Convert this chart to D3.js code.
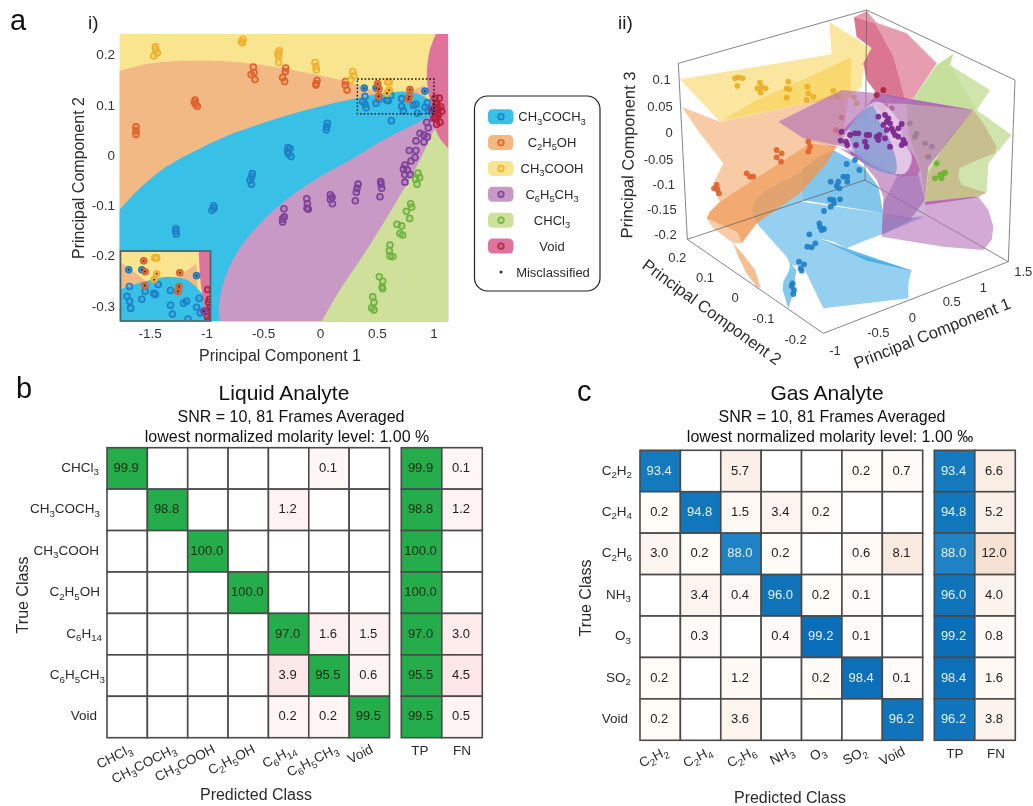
<!DOCTYPE html>
<html><head><meta charset="utf-8">
<script src="https://cdnjs.cloudflare.com/ajax/libs/d3/7.8.5/d3.min.js"></script>
<style>html,body{margin:0;padding:0;background:#fff}svg{display:block;filter:blur(.4px)}text{font-family:"Liberation Sans",Arial,sans-serif;fill:#2b2b2b}</style>
</head><body><svg id="c" width="1033" height="806"></svg>
<script>
// ---- Panel a(i): PCA points (PC1, PC2)
const acetoneX=[-1.268,-1.27,-1.265,-.936,-.933,-.951,-.596,-.601,-.616,-.604,-.282,-.264,-.285,-.276,-.255,.065,.059,.056,.396,.376,.396,.405,.493,.519,.6,.622,.587,.719,.719,.734,.822,.845,.857,.924,.945,.954,.628];
const acetoneY=[-.146,-.151,-.157,-.101,-.106,-.11,-.037,-.043,-.05,-.058,.015,.013,.007,.002,-.003,.063,.056,.05,.116,.106,.101,.094,.103,.111,.108,.118,.109,.112,.097,.088,.099,.101,.083,.095,.104,.089,.068];
const ethanolX=[-1.62,-1.62,-1.62,-1.10,-1.106,-1.094,-1.08,-.587,-.581,-.607,-.572,-.302,-.305,-.329,-.311,-.026,-.035,-.035,.223,.223,.238];
const ethanolY=[.056,.048,.041,.109,.105,.101,.097,.175,.164,.160,.150,.173,.166,.154,.146,.148,.142,.139,.146,.139,.129];
const aceticX=[-1.45,-1.447,-1.432,-1.464,-.678,-.692,-.684,-.358,-.37,-.364,-.364,-.044,-.035,-.032,.288,.299,.273,.596,.61];
const aceticY=[.215,.210,.203,.197,.230,.225,.223,.207,.202,.197,.184,.184,.176,.169,.166,.157,.150,.145,.145];
const tolueneX=[-.317,-.314,-.329,-.329,-.117,-.111,-.114,-.103,.091,.106,.091,.109,.335,.326,.32,.311,.534,.537,.543,.528,.748,.734,.769,.745,.795,.748,.786,.845,.836,.801,.845,.88,.915,.915,.945,.939,.954,.998];
const tolueneY=[-.107,-.123,-.127,-.133,-.087,-.097,-.106,-.108,-.079,-.084,-.088,-.097,-.058,-.066,-.074,-.091,-.053,-.058,-.066,-.083,-.02,-.028,-.03,-.039,-.039,-.054,.009,.009,-.005,-.012,.028,.043,.04,.026,.036,.065,.054,.073];
const chloroformX=[.863,.877,.842,.854,.798,.807,.76,.789,.678,.719,.704,.728,.616,.61,.616,.64,.522,.552,.546,.552,.464,.475,.455,.475];
const chloroformY=[-.036,-.045,-.048,-.058,-.097,-.104,-.112,-.126,-.138,-.141,-.156,-.159,-.179,-.19,-.201,-.202,-.242,-.251,-.262,-.266,-.282,-.293,-.304,-.308];
const voidX=[1.012,1.05,1.027,1.062,1.071,1.033,1.027,1.012,1.056,1.027,1.04,1.02,1.03,1.045,1.01];
const voidY=[.113,.113,.103,.096,.087,.083,.073,.073,.065,.061,.092,.1,.095,.08,.085];
// misclassified samples: class index, PC1, PC2
const misClass=[0,0,0,1,1,1,1,1,1,2,2,3];
const misX=[.39,.493,.924,.508,.519,.516,.792,.786,.778,.61,.59,.983];
const misY=[.133,.133,.127,.142,.131,.117,.130,.116,.111,.129,.123,.091];
// decision boundaries (PC1, PC2)
const orangeTop=[[-1.766,.167],[-1.496,.182],[-1.056,.188],[-.616,.182],[-.176,.166],[.235,.146],[.329,.14],[.511,.123]];
const orangeWedge=[[.75,.1225],[.922,.139],[.94,.1]];
const blueTop=[[-1.766,-.109],[-1.585,-.066],[-1.35,-.023],[-1.056,.013],[-.763,.043],[-.469,.066],[-.176,.086],[.117,.103],[.41,.117],[.558,.1226],[.704,.126],[.851,.1226],[.968,.109]];
const purpleTop=[[-.88,-.331],[-.889,-.302],[-.851,-.255],[-.734,-.195],[-.528,-.136],[-.264,-.083],[0,-.043],[.264,-.01],[.558,.03],[.822,.06],[1.012,.083]];
const greenTop=[[.015,-.331],[.176,-.268],[.41,-.189],[.646,-.103],[.851,-.023],[1.012,.053]];
const pinkEdge=[[1.021,.2406],[.968,.209],[.942,.169],[.954,.123],[.983,.096],[1.012,.053],[1.056,.033],[1.13,.013]];
const xTicks=[-1.5,-1,-.5,0,.5,1], yTicks=[.2,.1,0,-.1,-.2,-.3];
const xRange=[-1.766,1.13], yRange=[-.331,.2406];
const insetX=[.329,1.03], insetY=[.082,.151];

const classNames=["CH3COCH3","C2H5OH","CH3COOH","C6H5CH3","CHCl3","Void"];
const regionColors=["#38c0e6","#f3b985","#f9e48f","#c999c6","#cee09a","#de739c"];
const markColors=["#1d7fc4","#e0602a","#f0b02e","#7d3f98","#6fb33f","#b5213c"];

// ---- Panel a(ii): picture-plane readings of the 3-D view (view units)
const vYellowA=[[240,238],[695,163],[688,65],[750,105],[815,148],[792,200],[785,260],[745,295],[700,290],[610,312],[360,365]];
const vYellowB=[[370,360],[470,300],[620,235],[755,170],[752,290],[610,312]];
const vOrangeA=[[245,320],[360,365],[610,312],[700,285],[745,295],[730,400],[680,490],[600,580],[470,670],[425,730],[400,730],[340,685],[320,655],[330,635],[360,605],[350,590],[340,550],[360,510],[370,490],[300,400]];
const vOrangeB=[[320,655],[330,635],[360,605],[630,430],[710,440],[680,490],[600,580],[470,670],[425,730],[415,700],[400,690]];
const vOrangeC=[[400,730],[435,770],[465,810],[482,865],[470,860],[440,820],[415,770]];
const vBlueA=[[605,600],[605,510],[655,470],[700,450],[790,500],[835,560],[850,640],[760,625]];
const vBlueB=[[455,630],[465,600],[500,570],[605,515],[605,605],[850,640],[935,655],[975,650],[880,690],[800,720],[740,745],[700,725],[655,715],[760,760],[935,810],[925,850],[925,895],[670,925],[610,800],[572,795],[560,770],[510,715],[470,670]];
const vBlueC=[[570,790],[590,810],[582,850],[580,880],[565,925],[548,870],[550,845],[568,810]];
const vBlueD=[[655,715],[740,745],[870,790],[935,812],[800,782],[710,740]];
const vGreenA=[[1060,162],[1050,195],[1170,270],[1130,330],[1235,405],[1165,490],[1160,575],[1135,590],[975,605],[965,520],[925,400],[920,315],[940,295],[1010,195]];
const vGreenB=[[1060,162],[1050,195],[1130,330],[1120,330],[940,295],[1010,195]];
const vOlive=[[1120,330],[1150,370],[1190,440],[1185,458],[1110,490],[1078,505],[1075,530],[1085,555],[1160,578],[1135,590],[975,605],[985,520],[1040,420]];
const vPinkA=[[762,52],[800,33],[830,68],[920,100],[1010,190],[940,295],[915,300],[830,280],[800,240],[790,190],[815,145],[770,110]];
const vPinkB=[[762,52],[825,70],[880,170],[915,300],[830,280],[800,240],[790,190],[815,145],[770,110]];
const vPurpleA=[[535,365],[725,270],[835,280],[1120,330],[1040,430],[985,500],[975,600],[930,660],[850,640],[850,590],[830,540],[790,490],[730,440],[610,415]];
const vPurpleB=[[845,710],[850,610],[850,640],[935,655],[975,645],[975,605],[1135,590],[1165,630],[1180,680],[1175,720],[1150,750],[1030,740]];
const vPurpleC=[[720,400],[835,280],[1120,330],[925,312],[835,310],[745,390]];
const vPurpleD=[[610,415],[710,440],[790,470],[890,520],[915,520],[935,490],[935,470],[915,430],[945,470],[960,510],[950,525],[900,530],[800,495],[720,445]];
const vPurpleE=[[850,610],[890,530],[955,520],[975,605],[975,645],[935,660],[845,705]];
const vPurpleF=[[975,605],[1120,590],[1135,592],[975,615]];
const vLens=[[745,390],[835,305],[895,360],[910,420],[935,470],[915,520],[850,510],[780,470],[730,425]];
const vLensBlue=[[750,385],[820,320],[840,370],[870,420],[885,520],[810,500],[760,450]];
const vBack=[[vYellowA,"#f8dc78",.72],[vYellowB,"#f9cc4a",.55],[vBlueB,"#4fb0e6",.6],[vBlueA,"#3fa8e0",.65],[vBlueC,"#4fb0e6",.7],[vBlueD,"#2ea2e0",.7],[vOrangeA,"#f3a86c",.6],[vOrangeB,"#ee8f46",.55],[vOrangeC,"#f3a86c",.75],[vGreenA,"#a9d06a",.55],[vGreenB,"#a9d06a",.25],[vOlive,"#c09c70",.5],[vPinkA,"#db6f8b",.68],[vPinkB,"#c9476f",.45]];
const vFront=[[vPurpleA,"#b574b4",.68],[vPurpleB,"#b676bc",.62],[vPurpleE,"#8e5fae",.45],[vPurpleC,"#a860b0",.7],[vPurpleD,"#b05ca8",.7],[vPurpleF,"#b04fa4",.7]];
const vPtsYellow=[[405,235],[415,232],[428,235],[412,258],[480,248],[472,265],[485,262],[497,265],[482,278],[565,245],[560,265],[568,268],[560,293],[622,260],[625,280],[640,290],[620,300]];
const vPtsYellowFaded=[[700,272],[712,290],[762,292],[770,310]];
const vPtsOrange=[[350,555],[342,565],[352,568],[357,580],[440,520],[450,530],[460,530],[530,450],[545,460],[530,472],[543,485],[625,425],[630,440],[625,455]];
const vPtsOrangeFaded=[[725,352],[708,390],[720,398]];
const vPtsBlue=[[578,850],[575,858],[582,870],[580,882],[597,785],[612,793],[602,805],[605,812],[628,703],[622,740],[635,742],[646,730],[658,670],[660,680],[665,690],[672,687],[690,598],[700,600],[720,598],[702,610],[692,620],[672,633],[692,545],[715,545],[710,558],[718,565],[730,530],[742,530],[742,545],[740,492],[778,510],[765,480]];
const vPtsBlueFaded=[[790,350],[820,360],[840,370],[800,380],[770,460],[760,458],[785,470]];
const vPtsPurple=[[725,395],[722,422],[738,425],[742,435],[750,405],[765,400],[775,400],[768,435],[795,425],[800,405],[808,405],[800,440],[830,410],[838,405],[860,390],[835,350],[855,345],[860,365],[870,370],[875,385],[880,395],[895,385],[905,372],[885,405],[895,410],[910,420],[905,435],[915,430],[870,440],[855,415],[835,420],[850,375],[865,355]];
const vPtsVoid=[[850,270],[830,285]];
const vPtsVoidFaded=[[855,320],[875,325],[840,320],[850,335]];
const vPtsGreen=[[1010,490],[1030,520],[1020,525],[1005,535],[1025,535],[1035,518]];
const vPtsGreenFaded=[[975,430],[995,440],[945,410],[930,370],[950,400],[985,470]];
const vBoxEdges=[[[262,718],[670,1000],[1225,785],[795,540],[262,718]],[[262,718],[235,190],[800,30],[1245,240],[1225,785]],[[795,540],[800,30]]];
const v3Ticks=[["0.1",212,238],["0.05",218,320],["0",218,398],["-0.05",220,478],["-0.1",225,552],["-0.15",230,628],["-0.2",230,703]];
const v2Ticks=[["0.2",232,773],["0.1",315,832],["0",405,892],["-0.1",490,955],["-0.2",587,1018]];
const v1Ticks=[["-1",705,1052],["-0.5",835,996],["0",937,953],["0.5",1055,905],["1",1150,862],["1.5",1270,815]];

// ---- Panels b, c: confusion matrices
const liquidClasses=["CHCl3","CH3COCH3","CH3COOH","C2H5OH","C6H14","C6H5CH3","Void"];
const liquidMatrix=[
[99.9,null,null,null,null,0.1,null],
[null,98.8,null,null,1.2,null,null],
[null,null,100.0,null,null,null,null],
[null,null,null,100.0,null,null,null],
[null,null,null,null,97.0,1.6,1.5],
[null,null,null,null,3.9,95.5,0.6],
[null,null,null,null,0.2,0.2,99.5]];
const liquidTP=[99.9,98.8,100.0,100.0,97.0,95.5,99.5];
const liquidFN=[0.1,1.2,null,null,3.0,4.5,0.5];
const gasClasses=["C2H2","C2H4","C2H6","NH3","O3","SO2","Void"];
const gasMatrix=[
[93.4,null,5.7,null,null,0.2,0.7],
[0.2,94.8,1.5,3.4,0.2,null,null],
[3.0,0.2,88.0,0.2,null,0.6,8.1],
[null,3.4,0.4,96.0,0.2,0.1,null],
[null,0.3,null,0.4,99.2,0.1,null],
[0.2,null,1.2,null,0.2,98.4,0.1],
[0.2,null,3.6,null,null,null,96.2]];
const gasTP=[93.4,94.8,88.0,96.0,99.2,98.4,96.2];
const gasFN=[6.6,5.2,12.0,4.0,0.8,1.6,3.8];

const svg=d3.select("#c");
const defs=svg.append("defs");

function chem(sel,s,fs){
  const parts=s.match(/\d+|\D+/g);let down=false;
  parts.forEach(p=>{const isD=/^\d/.test(p);
    const t=sel.append("tspan").text(p);
    if(isD){t.attr("font-size",fs*.72).attr("dy",fs*.26);down=true}
    else if(down){t.attr("dy",-fs*.26);down=false}
  });
}

function drawRegions(g,x,y){
  const line=d3.line().x(d=>x(d[0])).y(d=>y(d[1])).curve(d3.curveCatmullRom.alpha(.5));
  const [x0,x1]=xRange,[y0,y1]=yRange;
  const poly=(b,corners,col)=>g.append("path").attr("fill",col).attr("d",line(b)+corners.map(c=>"L"+x(c[0])+","+y(c[1])).join("")+"Z");
  g.append("rect").attr("x",x(x0)).attr("y",y(y1)).attr("width",x(x1)-x(x0)).attr("height",y(y0)-y(y1)).attr("fill",regionColors[2]);
  poly(orangeTop,[[.6,.1],[x0,-.2]],regionColors[1]);
  g.append("path").attr("fill",regionColors[1]).attr("d",d3.line().x(d=>x(d[0])).y(d=>y(d[1]))(orangeWedge)+"Z");
  poly(blueTop,[[x1,.109],[x1,y0],[x0,y0]],regionColors[0]);
  poly(purpleTop,[[x1,.083],[x1,y0]],regionColors[3]);
  poly(greenTop,[[x1,.053],[x1,y0]],regionColors[4]);
  poly(pinkEdge,[[x1,y1]],regionColors[5]);
}
const classPts=[[acetoneX,acetoneY],[ethanolX,ethanolY],[aceticX,aceticY],[tolueneX,tolueneY],[chloroformX,chloroformY],[voidX,voidY]];
function drawPoints(g,x,y,r,sw){
  classPts.forEach(([X,Y],k)=>{
    g.append("g").selectAll("circle").data(X.map((v,i)=>[v,Y[i]])).join("circle")
     .attr("cx",d=>x(d[0])).attr("cy",d=>y(d[1])).attr("r",r)
     .attr("fill",markColors[k]).attr("fill-opacity",.22).attr("stroke",markColors[k]).attr("stroke-width",sw);
  });
  const mis=misX.map((v,i)=>[v,misY[i],misClass[i]]);
  g.append("g").selectAll("circle").data(mis).join("circle")
   .attr("cx",d=>x(d[0])).attr("cy",d=>y(d[1])).attr("r",r)
   .attr("fill",d=>markColors[d[2]]).attr("fill-opacity",.75).attr("stroke",d=>markColors[d[2]]).attr("stroke-width",sw);
  g.append("g").selectAll("circle").data(mis).join("circle")
   .attr("cx",d=>x(d[0])).attr("cy",d=>y(d[1])).attr("r",.9).attr("fill","#222");
}

// ---- panel i
const X=d3.scaleLinear().domain([0,1]).range([320,433.6]);
const Y=d3.scaleLinear().domain([0,.1]).range([155,104.7]);
defs.append("clipPath").attr("id","mainClip").append("rect").attr("x",X(xRange[0])).attr("y",Y(yRange[1])).attr("width",X(xRange[1])-X(xRange[0])).attr("height",Y(yRange[0])-Y(yRange[1]));
const main=svg.append("g").attr("clip-path","url(#mainClip)");
drawRegions(main,X,Y);
drawPoints(main,X,Y,3,1.6);
svg.append("rect").attr("x",X(.329)).attr("y",Y(insetY[1])).attr("width",X(1.003)-X(.329)).attr("height",Y(insetY[0])-Y(insetY[1]))
   .attr("fill","none").attr("stroke","#111").attr("stroke-width",1.4).attr("stroke-dasharray","1.6 2");
// inset
const ix=d3.scaleLinear().domain(insetX).range([121,210]);
const iy=d3.scaleLinear().domain(insetY).range([320,252]);
defs.append("clipPath").attr("id","insetClip").append("rect").attr("x",121).attr("y",252).attr("width",89).attr("height",68);
const inset=svg.append("g").attr("clip-path","url(#insetClip)");
drawRegions(inset,ix,iy);
drawPoints(inset,ix,iy,3,1.6);
svg.append("rect").attr("x",120.5).attr("y",251).attr("width",90).attr("height",70).attr("fill","none").attr("stroke","#46636b").attr("stroke-width",1.6);
// axes
const axB=svg.append("g").attr("transform","translate(0,322)").call(d3.axisBottom(X).tickValues(xTicks).tickSize(0).tickPadding(6).tickFormat(d=>String(d)));
const axL=svg.append("g").attr("transform","translate(119,0)").call(d3.axisLeft(Y).tickValues(yTicks).tickSize(0).tickPadding(4).tickFormat(d=>String(d)));
[axB,axL].forEach(a=>{a.select(".domain").remove();a.selectAll("text").attr("font-family","Liberation Sans").attr("font-size",13.5).style("fill","#333")});
svg.append("text").attr("x",280).attr("y",361).attr("text-anchor","middle").attr("font-size",16).text("Principal Component 1");
svg.append("text").attr("transform","translate(84,178) rotate(-90)").attr("text-anchor","middle").attr("font-size",16).text("Principal Component 2");
// panel letters
[["a",10,30,29],["b",16,398,29],["c",577,401,29]].forEach(d=>svg.append("text").attr("x",d[1]).attr("y",d[2]).attr("font-size",d[3]).style("fill","#111").text(d[0]));
[["i)",88,29],["ii)",618,29]].forEach(d=>svg.append("text").attr("x",d[1]).attr("y",d[2]).attr("font-size",19).style("fill","#222").text(d[0]));

// ---- legend
svg.append("rect").attr("x",474.5).attr("y",96).attr("width",125.5).attr("height",195).attr("rx",13).attr("fill","#fff").attr("stroke","#222").attr("stroke-width",1.2);
const legY=d3.scalePoint().domain(d3.range(7)).range([116.7,272]);
classNames.forEach((n,i)=>{
  svg.append("rect").attr("x",488).attr("y",legY(i)-7.5).attr("width",25.5).attr("height",15).attr("rx",4.5).attr("fill",regionColors[i]);
  svg.append("circle").attr("cx",501).attr("cy",legY(i)).attr("r",3).attr("fill",markColors[i]).attr("fill-opacity",.3).attr("stroke",markColors[i]).attr("stroke-width",1.3);
  const t=svg.append("text").attr("x",552).attr("y",legY(i)+4.5).attr("text-anchor","middle").attr("font-size",13);
  chem(t,n,13);
});
svg.append("circle").attr("cx",501).attr("cy",legY(6)).attr("r",1.6).attr("fill","#333");
svg.append("text").attr("x",553).attr("y",legY(6)+4.5).attr("text-anchor","middle").attr("font-size",13).text("Misclassified");

// ---- panel ii
const vx=d3.scaleLinear().domain([0,1299]).range([600,1033]);
const vy=d3.scaleLinear().domain([0,1110]).range([0,370]);
const vLine=d3.line().x(d=>vx(d[0])).y(d=>vy(d[1]));
const v=svg.append("g");
const smooth=d3.line().x(d=>vx(d[0])).y(d=>vy(d[1])).curve(d3.curveCatmullRomClosed.alpha(.9));
const drawSurf=s=>v.append("path").attr("d",vLine(s[0])+"Z").attr("fill",s[1]).attr("fill-opacity",s[2]);
function vPts(a,c,op,r){v.append("g").selectAll("circle").data(a).join("circle").attr("cx",d=>vx(d[0])).attr("cy",d=>vy(d[1])).attr("r",r||2.9).attr("fill",c).attr("fill-opacity",op)}
vBack.forEach(drawSurf);
vBoxEdges.forEach(e=>v.append("path").attr("d",vLine(e)).attr("fill","none").attr("stroke","#666").attr("stroke-width",.8));
vPts(vPtsYellowFaded,"#e9ab1c",.8);vPts(vPtsOrangeFaded,"#e0602a",.8);vPts(vPtsBlueFaded,"#1f80c6",.8);vPts(vPtsVoidFaded,"#a8203a",.8);vPts(vPtsGreenFaded,"#6e8f5c",.9);
vFront.forEach(drawSurf);
v.append("path").attr("d",smooth(vLens)).attr("fill","#e9d2ee").attr("fill-opacity",.75);
v.append("path").attr("d",smooth(vLensBlue)).attr("fill","#7a97d2").attr("fill-opacity",.75);
vPts(vPtsYellow,"#e9ab1c",.85);vPts(vPtsOrange,"#e0602a",.9);vPts(vPtsBlue,"#1f80c6",.92);
vPts(vPtsVoid,"#a8203a",.9);vPts(vPtsPurple,"#7b2a92",.95);vPts(vPtsGreen,"#6db52f",.95);
[v3Ticks,v2Ticks,v1Ticks].forEach((ts,k)=>ts.forEach(t=>svg.append("text").attr("x",vx(t[1])).attr("y",vy(t[2])+4.5).attr("text-anchor",k==0?"end":"middle").attr("font-size",13).style("fill","#333").text(t[0])));
[[628,155,-89],[712,312,36],[932,333,-21.5]].forEach((d,i)=>svg.append("text").attr("transform",`translate(${d[0]},${d[1]}) rotate(${d[2]})`).attr("text-anchor","middle").attr("dy",".35em").attr("font-size",16.5).text(`Principal Component ${[3,2,1][i]}`));

// ---- heat maps
function heat(o){
  const g=svg.append("g");
  const cx=d3.scaleBand().domain(d3.range(7)).range(o.xr);
  const cy=d3.scaleBand().domain(d3.range(7)).range(o.yr);
  const sx=d3.scaleBand().domain([0,1]).range(o.sr);
  const cell=(x,y,w,h,val,diag)=>{
    const fill=val==null?"#fff":diag?o.diag(val):o.off(val);
    g.append("rect").attr("x",x).attr("y",y).attr("width",w).attr("height",h).attr("fill",fill).attr("stroke","#4a4a4a").attr("stroke-width",1.6);
    if(val!=null)g.append("text").attr("x",x+w/2-1).attr("y",y+h/2+3.5).attr("text-anchor","middle").attr("font-size",13).style("fill",diag?o.diagText:"#222").text(val.toFixed(1));
  };
  o.m.forEach((row,r)=>row.forEach((val,c)=>cell(cx(c),cy(r),cx.bandwidth(),cy.bandwidth(),val,r===c)));
  o.tp.forEach((val,r)=>cell(sx(0),cy(r),sx.bandwidth(),cy.bandwidth(),val,true));
  o.fn.forEach((val,r)=>cell(sx(1),cy(r),sx.bandwidth(),cy.bandwidth(),val,false));
  o.classes.forEach((n,i)=>{
    const t=g.append("text").attr("x",o.yEnd[i]).attr("y",cy(i)+cy.bandwidth()/2+3.5).attr("text-anchor","end").attr("font-size",13.5);chem(t,n,13.5);
    const t2=g.append("text").attr("transform",`translate(${o.xEnd[i]},${o.xBase}) rotate(${o.rot})`).attr("text-anchor","end").attr("font-size",13.5);chem(t2,n,13.5);
  });
  ["TP","FN"].forEach((s,i)=>g.append("text").attr("x",o.tpX[i]).attr("y",o.tpY).attr("text-anchor","middle").attr("font-size",13.5).text(s));
  g.append("text").attr("x",o.pcX).attr("y",o.pcY).attr("text-anchor","middle").attr("font-size",16).text("Predicted Class");
  g.append("text").attr("transform",`translate(${o.tcX},${o.tcY}) rotate(-90)`).attr("text-anchor","middle").attr("font-size",16).text("True Class");
  g.append("text").attr("x",o.tX).attr("y",400).attr("text-anchor","middle").attr("font-size",21).style("fill","#111").text(o.title);
  g.append("text").attr("x",o.sX).attr("y",421.5).attr("text-anchor","middle").attr("font-size",16).style("fill","#111").text("SNR = 10, 81 Frames Averaged");
  g.append("text").attr("x",o.sX2).attr("y",441.5).attr("text-anchor","middle").attr("font-size",16).style("fill","#111").text("lowest normalized molarity level: 1.00 "+o.unit);
}
heat({m:liquidMatrix,tp:liquidTP,fn:liquidFN,classes:liquidClasses,
  xr:[107,389.5],yr:[447.7,737.7],sr:[401.3,482.3],
  diag:()=>"#24ad4a",off:d3.scaleLinear([0,4.5],["#fff6f6","#fde6e7"]),diagText:"#102a14",
  yEnd:[99,100,99,100,102,105,97],xEnd:[133,177,216,256,297,339,374],xBase:752,rot:-27,
  tpX:[420,462],tpY:755,pcX:256,pcY:800,tcX:28,tcY:595,tX:284,sX:291,sX2:287,title:"Liquid Analyte",unit:"%"});
heat({m:gasMatrix,tp:gasTP,fn:gasFN,classes:gasClasses,
  xr:[640,922.7],yr:[450.3,740.3],sr:[934.3,1015.3],
  diag:d3.scaleLinear([88,99],["#1f82c4","#0a6fb8"]),off:d3.scaleLinear([0,12],["#fffbf8","#f6e2d4"]),diagText:"#e4f1fa",
  yEnd:[632,632,632,631,631,631,628],xEnd:[669,713,757,795,827,868,906],xBase:754,rot:-27,
  tpX:[955,996],tpY:758,pcX:790,pcY:803,tcX:591,tcY:598,tX:827,sX:832,sX2:830,title:"Gas Analyte",unit:"‰"});
</script></body></html>
